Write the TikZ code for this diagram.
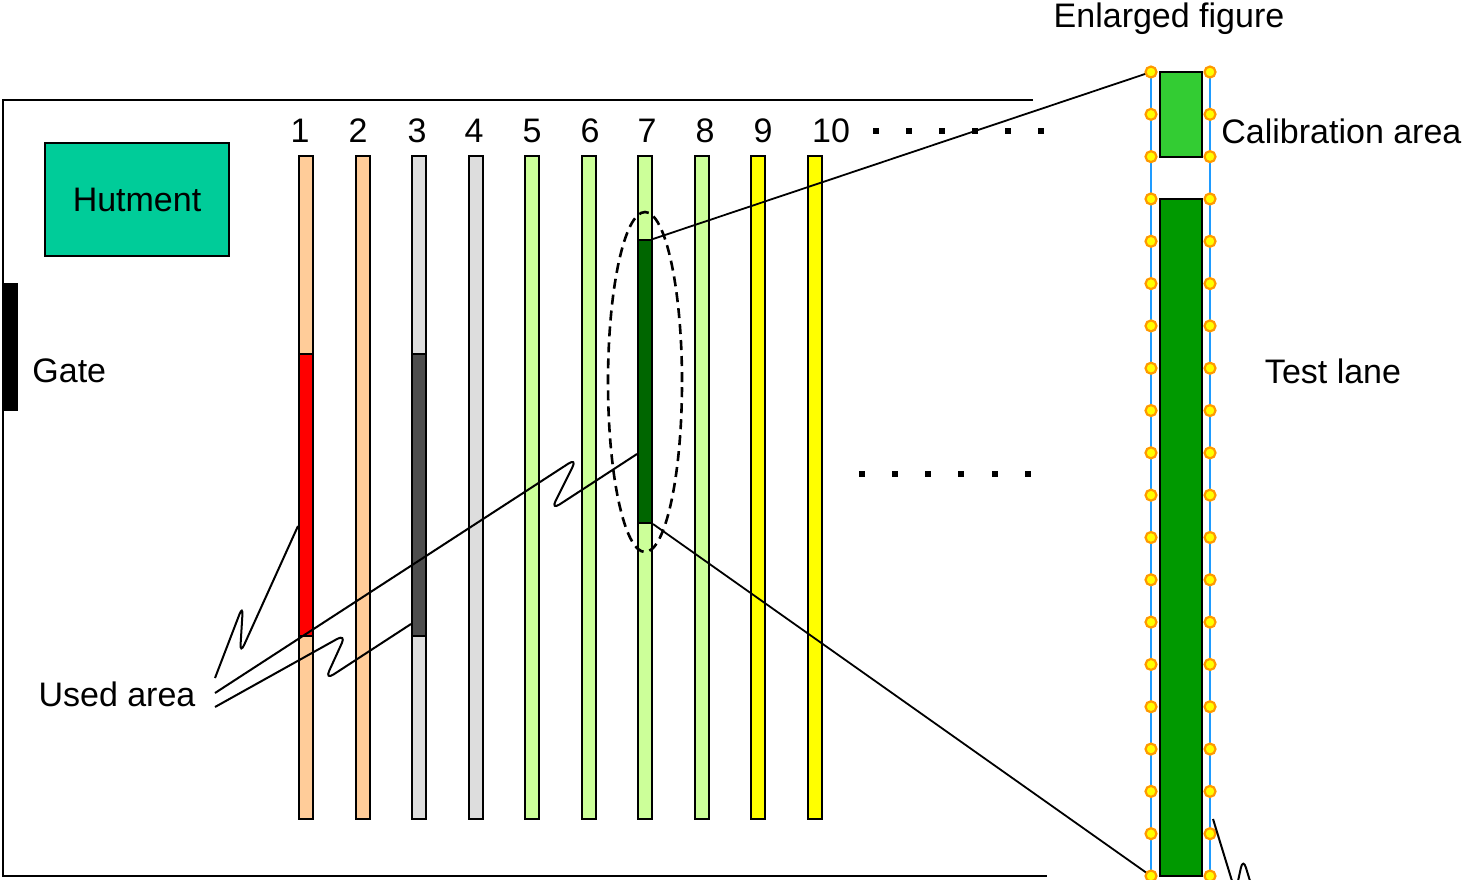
\documentclass[tikz,border=0pt]{standalone}
\usepackage{fontspec}
\setmainfont{Liberation Sans}
\usetikzlibrary{calc,shapes.geometric}
\definecolor{peach}{HTML}{FFCC99}
\definecolor{lgray}{HTML}{DDDDDD}
\definecolor{lgreen}{HTML}{CCFF99}
\definecolor{yel}{HTML}{FFFF00}
\definecolor{dgray}{HTML}{4D4D4D}
\definecolor{dgreen}{HTML}{006600}
\definecolor{hutcol}{HTML}{00CC99}
\definecolor{calcol}{HTML}{33CC33}
\definecolor{testcol}{HTML}{009900}
\definecolor{guide}{HTML}{1E9BFF}
\definecolor{handlering}{HTML}{FF9900}
\begin{document}
\begin{tikzpicture}[x=0.5pt,y=-0.5pt,
  font=\fontsize{17}{20}\selectfont,
  lane/.style={draw=black, line width=1pt, minimum width=7pt, minimum height=331.5pt, inner sep=0pt},
  usedzone/.style={draw=black, line width=1pt, minimum width=7pt, minimum height=141pt, inner sep=0pt},
  label/.style={inner sep=0pt},
  callout/.style={line width=1pt, rounded corners=5pt},
  zoomline/.style={line width=0.9pt},
  guideline/.style={draw=guide, line width=1pt},
  handle/.style={circle, draw=handlering, fill=yel, line width=1.1pt, minimum size=5.5pt, inner sep=0pt},
  dot/.style={fill=black, minimum size=3pt, inner sep=0pt}]
\useasboundingbox (0,0) rectangle (1470,879);

% site boundary (open on the right)
\draw[line width=0.8pt] (1033,100) -- (3,100) -- (3,876) -- (1047,876);

% hutment and gate
\node[draw, line width=1pt, fill=hutcol, minimum width=92pt, minimum height=56.5pt] (hut) at (137,199.5) {Hutment};
\node[fill=black, minimum width=7.5pt, minimum height=64pt, inner sep=0pt] (gate) at (10.5,347) {};
\node[label, anchor=west] (gatetext) at (32,371) {Gate};

% test lanes with their numbers
\foreach \n/\cx/\col/\lx in {1/306/peach/300, 2/363/peach/358, 3/419/lgray/417, 4/476/lgray/474,
    5/532/lgreen/532, 6/589/lgreen/590, 7/645/lgreen/647, 8/702/lgreen/705, 9/758/yel/763, 10/815/yel/831} {
  \node[lane, fill=\col] (lane\n) at (\cx,487.5) {};
  \node[label] (num\n) at (\lx,131) {\n};
}

% used parts of lanes
\node[usedzone, fill=red] (used1) at (306,495) {};
\node[usedzone, fill=dgray] (used3) at (419,495) {};
\node[usedzone, fill=dgreen, minimum height=141.5pt] (used7) at (645,381.5) {};

% dotted continuation marks
\foreach \x [count=\i] in {876,909,942,975,1008,1041}
  \node[dot] (dtop\i) at (\x,131) {};
\foreach \x [count=\i] in {862,895,928,961,995,1028}
  \node[dot] (dmid\i) at (\x,474) {};

% highlighted lane section
\node[draw, dashed, dash pattern=on 5pt off 3pt, line width=1.3pt, ellipse, minimum width=37pt, minimum height=170pt, inner sep=0pt] (focus) at (645,382) {};

% enlarged lane
\coordinate (tl) at (1151,72);
\coordinate (bl) at (1151,876);
\coordinate (tr) at (1210,72);
\coordinate (br) at (1210,876);
\draw[zoomline] (used7.north east) -- (tl);
\draw[zoomline] (used7.south east) -- (bl);
\draw[guideline] (tl) -- (bl);
\draw[guideline] (tr) -- (br);
\node[draw, line width=1pt, fill=calcol, minimum width=21pt, minimum height=42.5pt, inner sep=0pt] (cal) at (1181,114.5) {};
\node[draw, line width=1pt, fill=testcol, minimum width=21pt, minimum height=338.5pt, inner sep=0pt] (test) at (1181,537.5) {};
\foreach \i in {0,...,19} {
  \pgfmathsetmacro\yy{72+\i*804/19}
  \node[handle] (hl\i) at (1151,\yy) {};
  \node[handle] (hr\i) at (1210,\yy) {};
}

\node[label] (enl) at (1169,19) {Enlarged figure};
\node[label, anchor=west] (caltext) at (1221,131) {Calibration area};
\node[label] (testtext) at (1333,371) {Test lane};

% callouts for the used areas
\node[label] (usedtext) at (117,694) {Used area};
\coordinate (c1) at (215,678);
\coordinate (c2) at (215,693);
\coordinate (c3) at (215,707);
\draw[callout] (c1) -- (243,605) -- (240,654) -- ([yshift=55.5pt]used1.south west);
\draw[callout] (c2) -- (577,458) -- (551,510) -- ([yshift=35pt]used7.south west);
\draw[callout] (c3) -- (346,634) -- (325,680) -- ([yshift=6.5pt]used3.south west);

% callout for the test lane
\coordinate (t1) at (1213,819);
\coordinate (t2) at (1232,881);
\coordinate (t3) at (1238,881);
\coordinate (t4) at (1250,881);
\draw[callout] (t1) -- (t2);
\draw[callout] (t3) -- (1243,858) -- (t4);
\end{tikzpicture}
\end{document}
